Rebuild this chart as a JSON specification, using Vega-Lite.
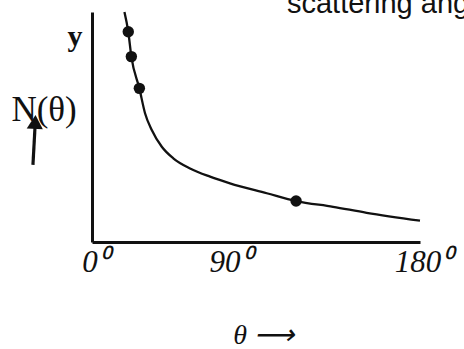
{
  "$schema": "https://vega.github.io/schema/vega-lite/v6.json",
  "autosize": {"type": "none"},
  "width": 328,
  "height": 230,
  "padding": {"left": 92, "top": 12, "right": 44, "bottom": 107},
  "background": "white",
  "config": {"view": {"stroke": null}},
  "layer": [
    {
      "data": {"values": [
        {"theta": 17.8, "N": 100},
        {"theta": 19.9, "N": 91.4},
        {"theta": 21.6, "N": 80.6},
        {"theta": 26.0, "N": 66.8},
        {"theta": 29.1, "N": 56.0},
        {"theta": 32.8, "N": 48.7},
        {"theta": 38.3, "N": 41.4},
        {"theta": 44.6, "N": 36.4},
        {"theta": 53.8, "N": 32.0},
        {"theta": 64.8, "N": 28.4},
        {"theta": 75.7, "N": 25.5},
        {"theta": 95.9, "N": 21.2},
        {"theta": 112.0, "N": 17.8},
        {"theta": 132.3, "N": 15.3},
        {"theta": 150.7, "N": 12.7},
        {"theta": 180, "N": 9.3}
      ]},
      "mark": {"type": "line", "interpolate": "monotone", "color": "#111", "strokeWidth": 2.3},
      "encoding": {
        "x": {
          "field": "theta", "type": "quantitative",
          "scale": {"domain": [0, 180], "nice": false, "zero": false},
          "axis": {
            "values": [0, 90, 180],
            "labelExpr": "datum.value + '⁰'",
            "ticks": false, "grid": false,
            "domainColor": "#111", "domainWidth": 3,
            "labelFont": "Liberation Serif", "labelFontStyle": "italic", "labelFontSize": 31,
            "labelColor": "#111", "labelPadding": 5,
            "labelOffset": {"condition": {"test": "datum.value === 90", "value": -26}, "value": 3},
            "labelFlush": false, "labelOverlap": false,
            "title": "θ ⟶",
            "titleFont": "Liberation Serif", "titleFontStyle": "italic", "titleFontWeight": "normal",
            "titleFontSize": 28, "titleColor": "#111",
            "titleX": 171, "titleY": 101, "titleBaseline": "alphabetic", "titleAlign": "center"
          }
        },
        "y": {
          "field": "N", "type": "quantitative",
          "scale": {"domain": [0, 100], "nice": false, "zero": false},
          "axis": {
            "labels": false, "ticks": false, "grid": false, "title": null,
            "domainColor": "#111", "domainWidth": 3
          }
        }
      }
    },
    {
      "data": {"values": [
        {"theta": 19.9, "N": 91.4},
        {"theta": 21.6, "N": 80.6},
        {"theta": 26.0, "N": 66.8},
        {"theta": 112.0, "N": 17.8}
      ]},
      "mark": {"type": "point", "filled": true, "color": "#111", "opacity": 1, "size": 130},
      "encoding": {
        "x": {"field": "theta", "type": "quantitative"},
        "y": {"field": "N", "type": "quantitative"}
      }
    },
    {
      "data": {"values": [{}]},
      "mark": {"type": "text", "font": "Liberation Serif", "fontWeight": "bold", "fontSize": 30, "color": "#111", "align": "center", "baseline": "middle"},
      "encoding": {
        "x": {"datum": -9.3, "type": "quantitative"},
        "y": {"datum": 89.1, "type": "quantitative"},
        "text": {"value": "y"}
      }
    },
    {
      "data": {"values": [{}]},
      "mark": {"type": "text", "font": "Liberation Serif", "fontSize": 35, "color": "#111", "align": "center", "baseline": "middle"},
      "encoding": {
        "x": {"datum": -26.3, "type": "quantitative"},
        "y": {"datum": 57.4, "type": "quantitative"},
        "text": {"value": "N(θ)"}
      }
    },
    {
      "data": {"values": [{}]},
      "mark": {"type": "rule", "color": "#111", "strokeWidth": 3.2},
      "encoding": {
        "x": {"datum": -32.4, "type": "quantitative"},
        "y": {"datum": 33.5, "type": "quantitative"},
        "x2": {"datum": -31.3},
        "y2": {"datum": 49.6}
      }
    },
    {
      "data": {"values": [{}]},
      "mark": {"type": "point", "shape": "triangle-up", "filled": true, "color": "#111", "opacity": 1, "size": 260, "angle": 3},
      "encoding": {
        "x": {"datum": -31.2, "type": "quantitative"},
        "y": {"datum": 52.2, "type": "quantitative"}
      }
    },
    {
      "data": {"values": [{}]},
      "mark": {"type": "text", "font": "Liberation Sans", "fontSize": 29, "color": "#111", "align": "left", "baseline": "alphabetic"},
      "encoding": {
        "x": {"datum": 107, "type": "quantitative"},
        "y": {"datum": 99.6, "type": "quantitative"},
        "text": {"value": "scattering angle"}
      }
    }
  ]
}
